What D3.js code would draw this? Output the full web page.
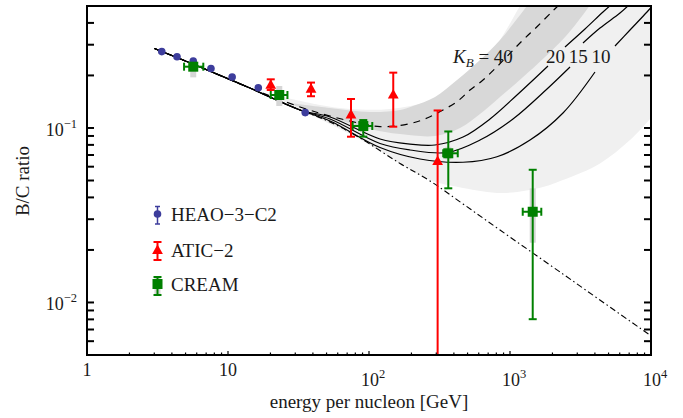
<!DOCTYPE html>
<html><head><meta charset="utf-8">
<script src="https://cdn.jsdelivr.net/npm/d3@7"></script>
<style>
body{margin:0;background:#fff}
svg{display:block}
text{font-family:"Liberation Serif","Times New Roman",serif;fill:#1a1a1a}
</style>
</head><body><svg id="c" width="683" height="418"></svg>
<script>
// ---------- data ----------
const heaoE = [3.39, 4.35, 5.67, 7.57, 10.7, 16.4, 35.3];
const heaoR = [0.274, 0.256, 0.242, 0.219, 0.196, 0.170, 0.1225];
const heaoLo = [0.269, 0.251, 0.237, 0.215, 0.192, 0.166, 0.119];
const heaoHi = [0.279, 0.261, 0.247, 0.223, 0.200, 0.174, 0.126];

const aticE = [20.1, 38.8, 74.5, 148.6, 306.7];
const aticR = [0.176, 0.167, 0.1187, 0.1545, 0.0643];
const aticLo = [0.165, 0.152, 0.0891, 0.1017, 0.001];
const aticHi = [0.190, 0.182, 0.1466, 0.2075, 0.126];

const creamE = [5.67, 23.1, 91.1, 365, 1449];
const creamR = [0.2245, 0.1545, 0.1026, 0.0716, 0.0331];
const creamElo = [4.88, 20.1, 76.6, 336, 1231];
const creamEhi = [6.68, 26.4, 105.5, 426, 1667];
const creamLo = [0.218, 0.150, 0.0892, 0.0451, 0.00802];
const creamHi = [0.231, 0.159, 0.111, 0.0955, 0.0576];
const creamSysLo = [0.195, 0.1336, 0.095, 0.066, 0.0220];
const creamSysHi = [0.241, 0.174, 0.110, 0.078, 0.0451];

// model curves [E, B/C]
const dashDot = [[3.01,0.2853],[6.33,0.2236],[14.3,0.1694],[32.4,0.1268],[52.9,0.1082],[86.4,0.0876],
  [166,0.0626],[270.8,0.0497],[464.3,0.0367],[849.4,0.0260],[2263,0.01495],[9367,0.00668],[10500,0.00627]];
const kb40 = [[3.01,0.2853],[6.33,0.2236],[14.3,0.1694],[32.4,0.1319],[52.9,0.1171],[90.7,0.1054],
  [119.7,0.1017],[166,0.1033],[219,0.1086],[270.8,0.1160],[334.9,0.1268],[420.9,0.1414],[520.4,0.1650],
  [643.5,0.1883],[808.7,0.2244],[1000,0.2678],[1236.5,0.3192],[1554,0.3804],[1986,0.4637],[2263,0.5133]];
const kb20 = [[3.01,0.2853],[6.33,0.2236],[14.3,0.1694],[32.4,0.1268],[52.9,0.1156],[119.7,0.0865],
  [195.4,0.0809],[293.9,0.0799],[464.3,0.0887],[721.4,0.1126],[1121,0.1545],[1860,0.2265],null,
  [2455,0.2911],[3403,0.3690],[4566,0.4619],[5289,0.5133]];
const kb15 = [[3.01,0.2853],[6.33,0.2236],[14.3,0.1694],[32.4,0.1268],[52.9,0.1126],[119.7,0.0815],
  [195.4,0.0748],[357.4,0.0723],[612.7,0.0853],[1050,0.1126],[1830,0.1673],[2665,0.2236],null,
  [3294,0.3068],[4348,0.3739],[6028,0.4559],[7097,0.5133]];
const kb10 = [[3.01,0.2853],[6.33,0.2236],[14.3,0.1694],[32.4,0.1268],[52.9,0.1096],[119.7,0.0773],
  [230,0.0664],[464.3,0.0636],[808.7,0.0684],[1387,0.0853],[2376,0.1219],[4007,0.2093],null,
  [5555,0.2949],[7097,0.3642],[9367,0.4619],[10500,0.5133]];

// uncertainty bands: upper and lower edges
const lightUpper = [[24.5,0.1504],[44.9,0.1354],[73.3,0.1284],[140.9,0.1284],[270.8,0.1427],[442.1,0.1739],
  [665,0.2388],[921.6,0.3548],[1177,0.5],[1387,0.6175],[22260,0.6175]];
const lightLower = [[24.5,0.1427],[35.2,0.1234],[87.8,0.0853],[166,0.0626],[270.8,0.0503],[464.3,0.0453],
  [892,0.0424],[1714,0.0459],[2376,0.0503],[4348,0.0626],[7097,0.0853],[10000,0.1141],[22260,0.2452]];
const darkUpper = [[27.5,0.1390],[52.9,0.1301],[101.6,0.1234],[166,0.1268],[205.2,0.1336],[293.9,0.1504],
  [420.9,0.1883],[612.7,0.2452],[849.4,0.3192],[1320,0.5],[1633,0.6175],[6028,0.6175]];
const darkLower = [[27.5,0.1372],[52.9,0.1156],[101.6,0.0987],[166,0.0923],[293.9,0.0900],[442.1,0.09996],
  [612.7,0.1202],[849.4,0.1504],[1216,0.1933],[1771,0.2551],[2496,0.3365],[3574,0.4869],[4348,0.6175]];

const xMajor = [1, 10, 100, 1000, 10000];
const xLabels = ["1", "10", "10|2", "10|3", "10|4"];
const yMajor = [0.01, 0.1];
const yLabels = ["10|\u22122", "10|\u22121"];
const legendNames = ["HEAO\u22123\u2212C2", "ATIC\u22122", "CREAM"];
const curveLabels = ["20 15 10"];

// ---------- layout ----------
const L = 87, R = 651, T = 6, B = 355;
const svg = d3.select("#c");
const x = d3.scaleLog().domain([1, 1e4]).range([L, R]);
const y = d3.scaleLog().domain([0.005, 0.5]).range([B, T]);

svg.append("defs").append("clipPath").attr("id", "clip")
  .append("rect").attr("x", L).attr("y", T).attr("width", R - L).attr("height", B - T);
const plot = svg.append("g").attr("clip-path", "url(#clip)");

const line = d3.line().defined(d => d !== null).x(d => x(d[0])).y(d => y(d[1])).curve(d3.curveCatmullRom.alpha(0.5));

function band(up, lo, col) {
  const pts = up.concat(lo.slice().reverse());
  plot.append("path").attr("d", line(pts) + "Z").attr("fill", col).attr("stroke", "none");
}
band(lightUpper, lightLower, "#f0f0f0");
band(darkUpper, darkLower, "#d8d8d8");

function curve(data, dash, w) {
  plot.append("path").attr("d", line(data)).attr("fill", "none").attr("stroke", "#000")
    .attr("stroke-width", w).attr("stroke-dasharray", dash);
}
curve(dashDot, "6,3,1.5,3", 1.1);
curve(kb10, null, 1.2);
curve(kb15, null, 1.2);
curve(kb20, null, 1.2);
curve(kb40, "7,6", 1.2);

// ---------- data points ----------
const gData = svg.append("g").attr("clip-path", "url(#clip)");

// CREAM systematic bands
creamE.forEach((e, i) => {
  gData.append("rect").attr("x", x(e) - 3).attr("width", 6)
    .attr("y", y(creamSysHi[i])).attr("height", y(creamSysLo[i]) - y(creamSysHi[i]))
    .attr("fill", "#d6d6d6");
});

function vbar(g, xx, y1, y2, col, cap, w) {
  g.append("line").attr("x1", xx).attr("x2", xx).attr("y1", y1).attr("y2", y2).attr("stroke", col).attr("stroke-width", w);
  [y1, y2].forEach(yy => g.append("line").attr("x1", xx - cap).attr("x2", xx + cap).attr("y1", yy).attr("y2", yy)
    .attr("stroke", col).attr("stroke-width", w));
}
function hbar(g, x1, x2, yy, col, cap, w) {
  g.append("line").attr("x1", x1).attr("x2", x2).attr("y1", yy).attr("y2", yy).attr("stroke", col).attr("stroke-width", w);
  [x1, x2].forEach(xx => g.append("line").attr("x1", xx).attr("x2", xx).attr("y1", yy - cap).attr("y2", yy + cap)
    .attr("stroke", col).attr("stroke-width", w));
}
const blue = "#3d3d9c", red = "#ff0000", green = "#008000";
const tri = "M0,-6L5.4,3.6L-5.4,3.6Z";

// HEAO
heaoE.forEach((e, i) => {
  vbar(gData, x(e), y(heaoHi[i]), y(heaoLo[i]), blue, 2.5, 1.5);
  gData.append("circle").attr("cx", x(e)).attr("cy", y(heaoR[i])).attr("r", 3.8).attr("fill", blue);
});
// ATIC
aticE.forEach((e, i) => {
  vbar(gData, x(e), y(aticHi[i]), y(aticLo[i]), red, 4, 2);
  gData.append("path").attr("d", tri).attr("transform", `translate(${x(e)},${y(aticR[i])})`).attr("fill", red);
});
// CREAM
creamE.forEach((e, i) => {
  vbar(gData, x(e), y(creamHi[i]), y(creamLo[i]), green, 4, 2);
  hbar(gData, x(creamElo[i]), x(creamEhi[i]), y(creamR[i]), green, 4, 2);
  gData.append("rect").attr("x", x(e) - 5).attr("y", y(creamR[i]) - 5).attr("width", 10).attr("height", 10).attr("fill", green);
});

// ---------- curve labels ----------
const kbl = svg.append("text").attr("x", 453).attr("y", 63).attr("font-size", 19);
kbl.append("tspan").attr("font-style", "italic").text("K");
kbl.append("tspan").attr("font-style", "italic").attr("font-size", 13).attr("dy", 4).text("B");
kbl.append("tspan").attr("dy", -4).text(" = 40");
svg.append("text").attr("x", 546).attr("y", 63).attr("font-size", 19).attr("word-spacing", "-1px").text(curveLabels[0]);

// ---------- legend ----------
const lg = svg.append("g");
const ly = [214, 250.5, 284];
vbar(lg, 157.5, ly[0] - 7.5, ly[0] + 10, blue, 2.5, 1.5);
lg.append("circle").attr("cx", 157.5).attr("cy", ly[0]).attr("r", 3.8).attr("fill", blue);
vbar(lg, 157.5, ly[1] - 8.5, ly[1] + 9.5, red, 4, 2);
lg.append("path").attr("d", tri).attr("transform", `translate(157.5,${ly[1]})`).attr("fill", red);
lg.append("rect").attr("x", 154.5).attr("y", ly[2] - 8).attr("width", 6).attr("height", 18).attr("fill", "#d6d6d6");
vbar(lg, 157.5, ly[2] - 7, ly[2] + 11, green, 4, 2);
lg.append("rect").attr("x", 152.5).attr("y", ly[2] - 5).attr("width", 10).attr("height", 10).attr("fill", green);
legendNames.forEach((n, i) => {
  lg.append("text").attr("x", 171).attr("y", ly[i] + 6.5).attr("font-size", 19).text(n);
});

// ---------- axes ----------
const ax = svg.append("g");
// y ticks (left and right, inward)
const yTicks = [];
[0.001, 0.01, 0.1].forEach(d => { for (let k = 1; k <= 9; k++) { const v = d * k; if (v > 0.0051 && v < 0.49) yTicks.push(v); } });
yTicks.forEach(v => {
  ax.append("line").attr("x1", L).attr("x2", L + 7).attr("y1", y(v)).attr("y2", y(v)).attr("stroke", "#000").attr("stroke-width", 2);
  ax.append("line").attr("x1", R - 7).attr("x2", R).attr("y1", y(v)).attr("y2", y(v)).attr("stroke", "#000").attr("stroke-width", 2);
});
// x ticks (bottom, inward, small)
const xTicks = [];
[1, 10, 100, 1000].forEach(d => { for (let k = 1; k <= 9; k++) xTicks.push(d * k); });
xTicks.push(10000);
xTicks.forEach(v => {
  const major = xMajor.includes(v);
  ax.append("line").attr("x1", x(v)).attr("x2", x(v)).attr("y1", B).attr("y2", B - (major ? 4 : 2.5))
    .attr("stroke", "#000").attr("stroke-width", 1.2);
});
// frame
ax.append("rect").attr("x", L).attr("y", T).attr("width", R - L).attr("height", B - T)
  .attr("fill", "none").attr("stroke", "#000").attr("stroke-width", 2);

// tick labels
xMajor.forEach((v, i) => {
  const parts = xLabels[i].split("|");
  if (parts.length === 1) {
    ax.append("text").attr("x", x(v)).attr("y", 376).attr("text-anchor", "middle").attr("font-size", 18).text(parts[0]);
  } else {
    const t = ax.append("text").attr("x", x(v) + 4).attr("y", 386).attr("text-anchor", "middle").attr("font-size", 18);
    t.append("tspan").text(parts[0]);
    t.append("tspan").attr("font-size", 12.5).attr("dy", -8).text(parts[1]);
  }
});
yMajor.forEach((v, i) => {
  const parts = yLabels[i].split("|");
  const t = ax.append("text").attr("x", 77).attr("y", y(v) + 8).attr("text-anchor", "end").attr("font-size", 18);
  t.append("tspan").text(parts[0]);
  t.append("tspan").attr("font-size", 12.5).attr("dy", -8).text(parts[1]);
});

// axis titles
svg.append("text").attr("x", 369).attr("y", 408).attr("text-anchor", "middle").attr("font-size", 19).text("energy per nucleon [GeV]");
svg.append("text").attr("transform", "translate(29,181) rotate(-90)").attr("text-anchor", "middle").attr("font-size", 19).text("B/C ratio");
</script>
</body></html>
